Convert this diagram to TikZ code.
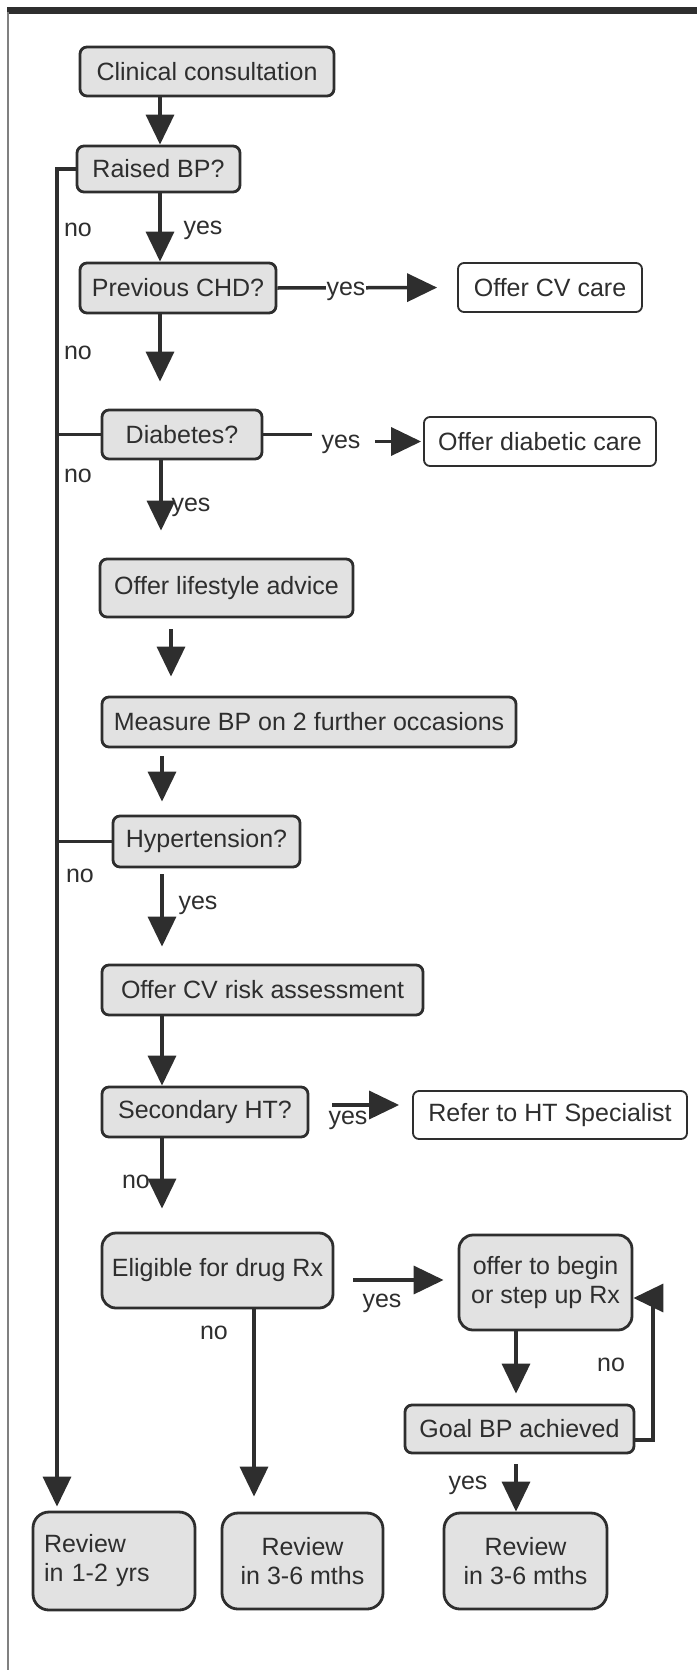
\documentclass[tikz,border=0pt]{standalone}
\usepackage{fontspec}
\setmainfont{Liberation Sans}
\usetikzlibrary{arrows.meta}
\definecolor{ink}{HTML}{2E2E2E}
\definecolor{boxfill}{HTML}{E2E2E2}
\begin{document}
\begin{tikzpicture}[x=1pt,y=-1pt,
  txt/.style={font=\fontsize{25}{29}\selectfont, text=ink},
  gbox/.style={txt, draw=ink, line width=2.8pt, fill=boxfill, rounded corners=7pt, inner sep=0pt, align=center},
  wbox/.style={txt, draw=ink, line width=1.8pt, fill=white, rounded corners=6pt, inner sep=0pt, align=center},
  rbox/.style={gbox, rounded corners=16pt},
  conn/.style={draw=ink, line width=3.5pt},
  arr/.style={conn, -{Triangle[width=28pt,length=30pt]}},
  lbl/.style={txt, inner sep=1pt}
]
\useasboundingbox (0,0) rectangle (697,1670);
% frame
\draw[ink, line width=7pt] (7,11) -- (697,11);
\draw[gray, line width=1.2pt] (8,12) -- (8,1670);

% nodes
\node[gbox, minimum width=254pt, minimum height=49pt] (cc)  at (207,71.5)   {Clinical consultation};
\node[gbox, minimum width=163pt, minimum height=46pt] (rbp) at (158.5,169)  {Raised BP?};
\node[gbox, minimum width=196pt, minimum height=50pt] (chd) at (178,288)    {Previous CHD?};
\node[wbox, minimum width=184pt, minimum height=49pt] (cv)  at (550,287.5)  {Offer CV care};
\node[gbox, minimum width=160pt, minimum height=49pt] (dia) at (182,434.5)  {Diabetes?};
\node[wbox, minimum width=232pt, minimum height=49pt] (dc)  at (540,441.5)  {Offer diabetic care};
\node[gbox, minimum width=253pt, minimum height=58pt] (ls)  at (226.5,588)  {Offer lifestyle advice};
\node[gbox, minimum width=414pt, minimum height=50pt] (mbp) at (309,722)    {Measure BP on 2 further occasions};
\node[gbox, minimum width=187pt, minimum height=51pt] (ht)  at (206.5,841.5){Hypertension?};
\node[gbox, minimum width=321pt, minimum height=50pt] (cvr) at (262.5,990)  {Offer CV risk assessment};
\node[gbox, minimum width=206pt, minimum height=50pt] (sht) at (205,1112)   {Secondary HT?};
\node[wbox, minimum width=274pt, minimum height=48pt] (ref) at (550,1115)   {Refer to HT Specialist};
\node[rbox, rounded corners=14pt, minimum width=231pt, minimum height=75pt] (eli) at (217.5,1270.5) {Eligible for drug Rx};
\node[rbox, rounded corners=14pt, minimum width=173pt, minimum height=95pt] (off) at (545.5,1282.5) {offer to begin\\or step up Rx};
\node[gbox, minimum width=229pt, minimum height=48pt] (goal) at (519.5,1429) {Goal BP achieved};
\node[rbox, minimum width=162pt, minimum height=98pt] (r1) at (114,1561) {};
\node[txt, text width=140pt, align=left, inner sep=0pt] (r1t) at (r1.center) {Review\\in 1-2 yrs};
\node[rbox, minimum width=161pt, minimum height=96pt] (r2) at (302.5,1561) {Review\\in 3-6 mths};
\node[rbox, minimum width=163pt, minimum height=96pt] (r3) at (525.5,1561) {Review\\in 3-6 mths};

% lanes
\coordinate (nl) at (57,169);
\coordinate (L160) at (160,0);
\coordinate (L161) at (161,0);
\coordinate (L171) at (171,0);
\coordinate (L162) at (162,0);
\coordinate (L254) at (254,0);
\coordinate (L516) at (516,0);
\coordinate (H1105) at (0,1105);
\coordinate (H1280) at (0,1280);
\coordinate (loopA) at (653,1440);
\coordinate (loopB) at (653,1298);

% main column
\draw[arr] (cc.south -| L160) -- (rbp.north -| L160);
\draw[arr] (rbp.south -| L160) -- (chd.north -| L160);
\draw[arr, shorten >=27pt] (chd.south -| L160) -- (dia.north -| L160);
\draw[arr, shorten >=27pt] (dia.south -| L161) -- (ls.north -| L161);
\draw[arr, shorten <=11pt, shorten >=19pt] (ls.south -| L171) -- (mbp.north -| L171);
\draw[arr, shorten <=8pt, shorten >=13pt] (mbp.south -| L162) -- (ht.north -| L162);
\draw[arr, shorten <=6pt, shorten >=17pt] (ht.south -| L162) -- (cvr.north -| L162);
\draw[arr] (cvr.south -| L162) -- (sht.north -| L162);
\draw[arr, shorten >=23pt] (sht.south -| L162) -- (eli.north -| L162);

% no lane on the left
\draw[arr, shorten >=4pt] (rbp.west) -- (nl) -- (nl |- r1.north);
\draw[conn] (dia.west) -- (dia.west -| nl);
\draw[conn] (ht.west) -- (ht.west -| nl);

% side branches
\draw[arr, shorten >=20pt] (chd.east) -- (cv.west);
\node[lbl, fill=white] at (346,291) {yes};
\draw[conn] (dia.east) -- ++(49,0);
\node[lbl] at (341,444) {yes};
\draw[arr, shorten >=2pt] ([xshift=-48pt]dc.west) -- (dc.west);
\draw[arr, shorten <=23pt, shorten >=13pt] (sht.east |- H1105) -- (ref.west |- H1105);
\draw[arr, shorten <=19pt, shorten >=14pt] (eli.east |- H1280) -- (off.west |- H1280);
\draw[arr, shorten >=10pt] (off.south -| L516) -- (goal.north -| L516);
\draw[arr] (loopA -| goal.east) -- (loopA) -- (loopB) -- (loopB -| off.east);
\draw[arr, shorten >=15pt] (eli.south -| L254) -- (r2.north -| L254);
\draw[arr, shorten <=10pt] (goal.south -| L516) -- (r3.north -| L516);

% labels
\node[lbl] at (78,230) {no};
\node[lbl] at (203,230) {yes};
\node[lbl] at (78,353) {no};
\node[lbl] at (78,476) {no};
\node[lbl] at (191,507) {yes};
\node[lbl] at (80,876) {no};
\node[lbl] at (198,905) {yes};
\node[lbl] at (348,1120) {yes};
\node[lbl] at (136,1182) {no};
\node[lbl] at (382,1303) {yes};
\node[lbl] at (214,1333) {no};
\node[lbl] at (611,1365) {no};
\node[lbl] at (468,1485) {yes};
\end{tikzpicture}
\end{document}
